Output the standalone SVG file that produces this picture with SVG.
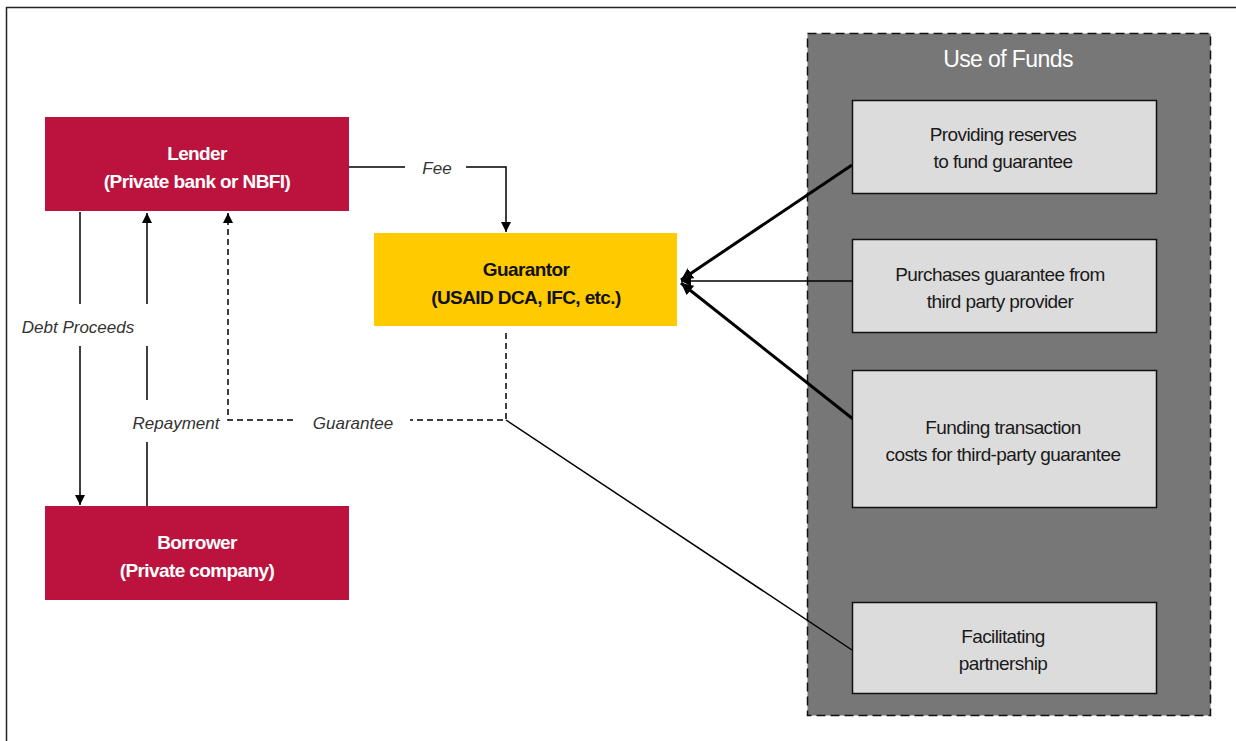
<svg xmlns="http://www.w3.org/2000/svg" width="1236" height="741" viewBox="0 0 1236 741">
<defs>
<style>
.t{font-family:"Liberation Sans Narrow","Liberation Sans",Arial,sans-serif;font-size:19px;letter-spacing:-0.6px;text-anchor:middle}
.w{fill:#fff;font-weight:bold}
.k{fill:#111;font-weight:bold}
.g{fill:#1a1a1a}
.lab{font-family:"Liberation Sans Narrow","Liberation Sans",Arial,sans-serif;font-size:17px;font-style:italic;fill:#333;text-anchor:middle}
.ln{stroke:#000;stroke-width:1.5;fill:none}
.dash{stroke:#000;stroke-width:1.5;fill:none;stroke-dasharray:6 4}
.thick{stroke:#000;stroke-width:3;fill:none}
.box{fill:#dcdcdc;stroke:#111;stroke-width:1.5}
</style>
<marker id="ah" viewBox="0 0 10 10" refX="10" refY="5" markerWidth="10" markerHeight="10" markerUnits="userSpaceOnUse" orient="auto"><path d="M0,0 L10,5 L0,10 z" fill="#000"/></marker>
<marker id="ah2" viewBox="0 0 10 10" refX="10" refY="5" markerWidth="12" markerHeight="12" markerUnits="userSpaceOnUse" orient="auto"><path d="M0,0 L10,5 L0,10 z" fill="#000"/></marker>
</defs>
<rect x="0" y="0" width="1236" height="741" fill="#fff"/>
<rect x="6.5" y="7.5" width="1250" height="760" fill="none" stroke="#222" stroke-width="1.5"/>

<g id="use-of-funds">
<rect x="807.5" y="33.5" width="403" height="682" fill="#777" stroke="#111" stroke-width="1.5" stroke-dasharray="9 5"/>
<text class="t" x="1008" y="67" style="font-size:23px;letter-spacing:-0.6px;fill:#fff">Use of Funds</text>
</g>

<g id="connectors">
<path class="ln" d="M349,167 H405 M466,167 H506 V232" marker-end="url(#ah)"/>
<path class="ln" d="M80,212 V304 M80,346 V505" marker-end="url(#ah)"/>
<path class="ln" d="M147,506 V442 M147,400 V346 M147,304 V213" marker-end="url(#ah)"/>
<path class="dash" d="M506,333 V420 H410"/>
<path class="dash" d="M293,420 H228 V213" marker-end="url(#ah)"/>
<path class="ln" d="M506,420 L852,650"/>
<path class="thick" d="M852,165 L681,280" marker-end="url(#ah2)"/>
<path class="ln" d="M852,281 L681,281" marker-end="url(#ah)"/>
<path class="thick" d="M853,419 L681,283" marker-end="url(#ah2)"/>
<text class="lab" x="437" y="174">Fee</text>
<text class="lab" x="78" y="333">Debt Proceeds</text>
<text class="lab" x="176" y="429">Repayment</text>
<text class="lab" x="353" y="429">Guarantee</text>
</g>

<g id="lender">
<rect x="45" y="117" width="304" height="94" fill="#bc133e"/>
<text class="t w" x="197" y="160">Lender</text>
<text class="t w" x="197" y="188">(Private bank or NBFI)</text>
</g>
<g id="borrower">
<rect x="45" y="506" width="304" height="94" fill="#bc133e"/>
<text class="t w" x="197" y="549">Borrower</text>
<text class="t w" x="197" y="577">(Private company)</text>
</g>
<g id="guarantor">
<rect x="374" y="233" width="303" height="93" fill="#ffcb00"/>
<text class="t k" x="526" y="276">Guarantor</text>
<text class="t k" x="526" y="304">(USAID DCA, IFC, etc.)</text>
</g>
<g id="box1">
<rect class="box" x="852.5" y="100.5" width="304" height="93"/>
<text class="t g" x="1003" y="141">Providing reserves</text>
<text class="t g" x="1003" y="168">to fund guarantee</text>
</g>
<g id="box2">
<rect class="box" x="852.5" y="239.5" width="304" height="93"/>
<text class="t g" x="1000" y="281">Purchases guarantee from</text>
<text class="t g" x="1000" y="308">third party provider</text>
</g>
<g id="box3">
<rect class="box" x="852.5" y="370.5" width="304" height="137"/>
<text class="t g" x="1003" y="434">Funding transaction</text>
<text class="t g" x="1003" y="461">costs for third-party guarantee</text>
</g>
<g id="box4">
<rect class="box" x="852.5" y="602.5" width="304" height="91"/>
<text class="t g" x="1003" y="643">Facilitating</text>
<text class="t g" x="1003" y="670">partnership</text>
</g>
</svg>
